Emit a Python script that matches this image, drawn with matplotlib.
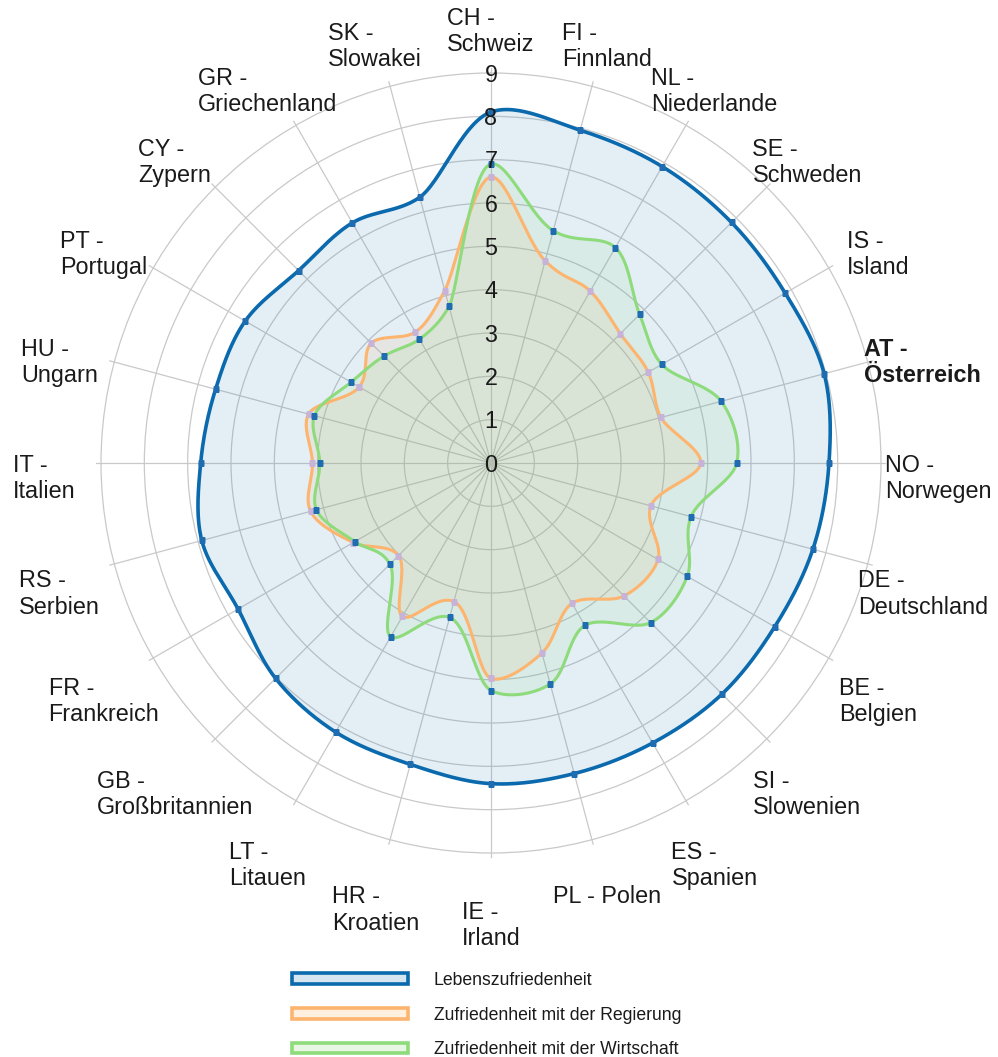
import numpy as np
import matplotlib
matplotlib.use("Agg")
import matplotlib.pyplot as plt
from matplotlib.patches import Patch
from matplotlib import transforms

plt.rcParams['font.family'] = ['Liberation Sans', 'DejaVu Sans']

# ---------------- data ----------------
categories = ["CH -\nSchweiz", "FI -\nFinnland", "NL -\nNiederlande", "SE -\nSchweden",
              "IS -\nIsland", "AT -\nÖsterreich", "NO -\nNorwegen", "DE -\nDeutschland",
              "BE -\nBelgien", "SI -\nSlowenien", "ES -\nSpanien", "PL - Polen",
              "IE -\nIrland", "HR -\nKroatien", "LT -\nLitauen", "GB -\nGroßbritannien",
              "FR -\nFrankreich", "RS -\nSerbien", "IT -\nItalien", "HU -\nUngarn",
              "PT -\nPortugal", "CY -\nZypern", "GR -\nGriechenland", "SK -\nSlowakei"]

leben = [8.1, 7.95, 7.9, 7.85, 7.84, 7.96, 7.8, 7.69, 7.56, 7.54, 7.46, 7.42,
         7.4, 7.2, 7.17, 7.03, 6.74, 6.91, 6.7, 6.58, 6.55, 6.28, 6.4, 6.35]
regierung = [6.6, 4.83, 4.58, 4.22, 4.19, 4.06, 4.84, 3.82, 4.45, 4.34, 3.74, 4.54,
             4.97, 3.31, 4.09, 3.02, 3.67, 4.31, 4.12, 4.36, 3.51, 3.91, 3.49, 4.12]
wirtschaft = [6.9, 5.55, 5.74, 4.85, 4.55, 5.5, 5.67, 4.78, 5.23, 5.21, 4.33, 5.28,
              5.25, 3.69, 4.63, 3.3, 3.63, 4.17, 3.95, 4.22, 3.73, 3.49, 3.3, 3.74]

series_names = ["Lebenszufriedenheit", "Zufriedenheit mit der Regierung",
                "Zufriedenheit mit der Wirtschaft"]
r_ticks = list(range(0, 10))
bold_label = "AT -\nÖsterreich"

# ---------------- styles ----------------
line_colors = ['#0b6aad', '#fdb46e', '#8edb7c']
fill_colors = ['#1f77b4', '#ffa94d', '#7fd66b']
fill_alphas = [0.12, 0.10, 0.10]
marker_colors = ['#1f6db0', '#c7b2d8', '#1f6db0']
line_widths = [2.6, 2.2, 2.2]
TXT = '#1a1a1a'
GRID = '#c9c9c9'
LABEL_FS = 16.8


def smooth_closed(x, y, smoothness=1.0, n=30):
    pts = np.column_stack([x, y]).astype(float)
    N = len(pts)
    t_in, t_out = [], []
    for i in range(N):
        prev, this, nxt = pts[i - 1], pts[i], pts[(i + 1) % N]
        d1 = prev - this
        d2 = nxt - this
        d1a = (d1 @ d1) ** 0.25
        d2a = (d2 @ d2) ** 0.25
        num = (d2a ** 2 * d1 - d1a ** 2 * d2) * smoothness
        den1 = 3 * d2a * (d1a + d2a)
        den2 = 3 * d1a * (d1a + d2a)
        t_in.append(this + num / den1)
        t_out.append(this - num / den2)
    segs = []
    tt = np.linspace(0, 1, n, endpoint=False)[:, None]
    for i in range(N):
        p0 = pts[i]
        p3 = pts[(i + 1) % N]
        c1 = t_out[0] if i == 0 else 2 * p0 - t_in[i]
        c2 = t_in[(i + 1) % N]
        b = ((1 - tt) ** 3) * p0 + 3 * ((1 - tt) ** 2) * tt * c1 + 3 * (1 - tt) * tt ** 2 * c2 + tt ** 3 * p3
        segs.append(b)
    out = np.vstack(segs + [pts[:1]])
    return out[:, 0], out[:, 1]


W, H = 998, 1057
fig = plt.figure(figsize=(W / 100, H / 100), dpi=100)
cx, cy = 491, 463
RMAX = 9.12                      # spokes run slightly past the outer ring
R = 390 * RMAX / 9
ax = fig.add_axes([(cx - R) / W, (H - cy - R) / H, 2 * R / W, 2 * R / H], projection='polar')
ax.set_theta_zero_location('N')
ax.set_theta_direction(-1)
ax.set_ylim(0, RMAX)

n = len(categories)
phi = np.arange(n) * 2 * np.pi / n

ax.set_xticks(phi)
ax.set_xticklabels([])
ax.set_yticks(r_ticks[1:])
ax.set_yticklabels([])
ax.grid(True, color=GRID, linewidth=0.9)
ax.spines['polar'].set_visible(False)
ax.set_facecolor('none')

all_series = [leben, regierung, wirtschaft]
curves = []
for vals in all_series:
    v = np.array(vals)
    x = v * np.sin(phi)
    y = v * np.cos(phi)
    sx, sy = smooth_closed(x, y)
    th = np.unwrap(np.arctan2(sx, sy))
    rr = np.hypot(sx, sy)
    curves.append((th, rr))

for k, (th, rr) in enumerate(curves):
    ax.fill(th, rr, color=fill_colors[k], alpha=fill_alphas[k], lw=0, zorder=2)
for k, (th, rr) in enumerate(curves):
    ax.plot(th, rr, color=line_colors[k], lw=line_widths[k], zorder=3 + k, solid_capstyle='round')
for k, vals in enumerate(all_series):
    ax.plot(phi, vals, 's', ms=4.8, color=marker_colors[k], mec='none', zorder=7)

down2 = ax.transData + transforms.ScaledTranslation(0, -2 / 100, fig.dpi_scale_trans)
for v in r_ticks:
    ax.text(0, v, str(v), ha='center', va='center', fontsize=LABEL_FS, color=TXT,
            zorder=10, transform=down2)

# category labels: block centred horizontally on the label circle,
# first line vertically on it
RC = 447.0
lh = 27.6
for i, lab in enumerate(categories):
    a = phi[i]
    s, c = np.sin(a), np.cos(a)
    bx = cx + RC * s
    first_y = (H - cy) + RC * c
    nl = lab.count('\n') + 1
    by = first_y - (nl - 1) * lh / 2 - 1.5
    fig.text(bx / W, by / H, lab, fontsize=LABEL_FS, color=TXT, ha='center', va='center',
             multialignment='left', linespacing=1.18,
             fontweight='bold' if lab == bold_label else 'normal')

handles = []
for k in range(3):
    handles.append(Patch(facecolor=(*matplotlib.colors.to_rgb(fill_colors[k]), 0.18),
                         edgecolor=line_colors[k], linewidth=2.6))
leg = fig.legend(handles, series_names, loc='upper left',
                 bbox_to_anchor=(292 / W, 1 - 972 / H), frameon=False,
                 fontsize=12.7, handlelength=6.6, handleheight=0.55,
                 handletextpad=1.45, labelspacing=1.0, borderpad=0, borderaxespad=0)
for tx in leg.get_texts():
    tx.set_color(TXT)

fig.savefig('out.png', dpi=100)
